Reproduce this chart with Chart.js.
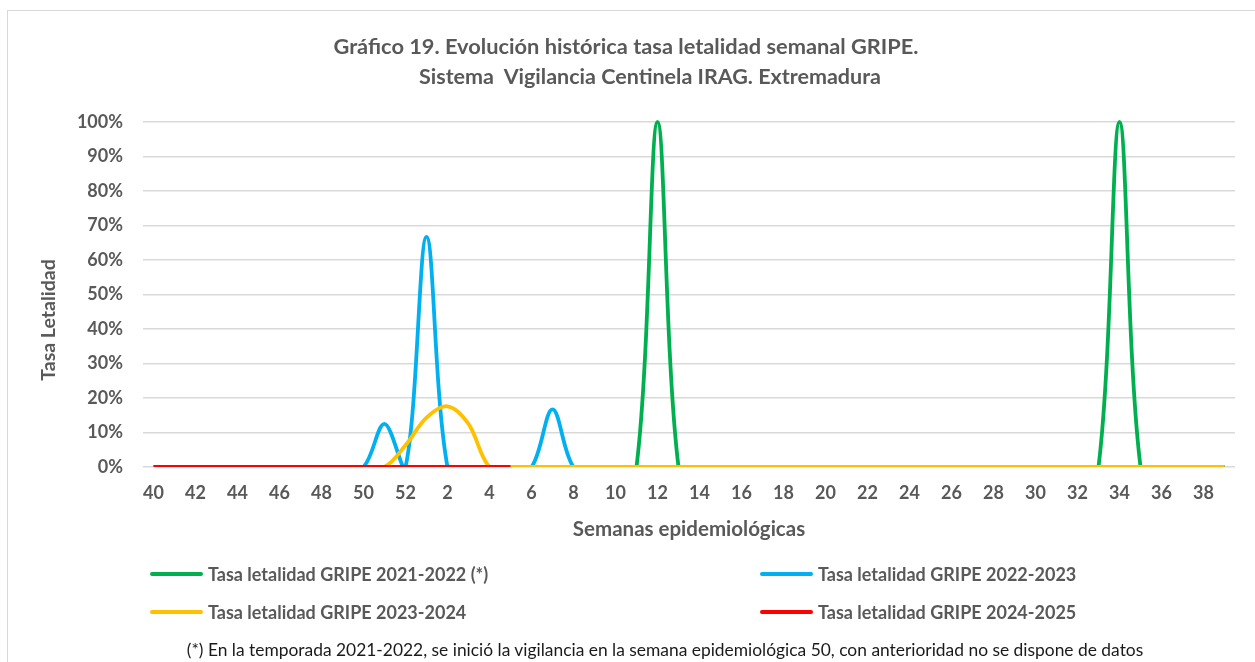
<!DOCTYPE html>
<html>
<head>
<meta charset="utf-8">
<script src="https://cdn.jsdelivr.net/npm/chart.js@4/dist/chart.umd.min.js"></script>
<style>
  html, body { margin: 0; padding: 0; background: #fff; }
  #wrap { position: relative; width: 1255px; height: 662px; overflow: hidden; font-family: Lato, "DejaVu Sans", sans-serif; }
  #frame { position: absolute; left: 7px; top: 10px; width: 1300px; height: 700px; border: 1px solid #d9d9d9; box-sizing: border-box; }
  canvas { position: absolute; left: 0; top: 0; }
  .t { position: absolute; white-space: pre; text-align: center; color: #595959; font-weight: bold; }
  .lg { position: absolute; white-space: pre; color: #595959; font-weight: bold; font-size: 18px; line-height: 22px; }
  .sw { position: absolute; height: 4px; width: 53px; border-radius: 2px; }
  #ytitle { position: absolute; left: -52px; top: 307px; width: 200px; height: 26px; line-height: 26px;
    font-size: 19.5px; transform: rotate(-90deg); transform-origin: 50% 50%; }
</style>
</head>
<body>
<div id="wrap">
  <div id="frame"></div>
  <canvas id="c" width="1255" height="662"></canvas>
  <div class="t" style="left:176px; width:900px; top:33px; font-size:21.8px; line-height:26px;">Gráfico 19. Evolución histórica tasa letalidad semanal GRIPE.</div>
  <div class="t" style="left:200px; width:900px; top:63px; font-size:21.5px; line-height:26px;">Sistema  Vigilancia Centinela IRAG. Extremadura</div>
  <div class="t" id="ytitle">Tasa Letalidad</div>

  <div class="sw" style="left:150px; top:572px; background:#00b050;"></div>
  <div class="lg" style="left:208px; top:563px;">Tasa letalidad GRIPE 2021-2022 (*)</div>
  <div class="sw" style="left:760px; top:572px; background:#00b0f0;"></div>
  <div class="lg" style="left:818px; top:563px;">Tasa letalidad GRIPE 2022-2023</div>
  <div class="sw" style="left:150px; top:610px; background:#ffc000;"></div>
  <div class="lg" style="left:208px; top:601px;">Tasa letalidad GRIPE 2023-2024</div>
  <div class="sw" style="left:760px; top:610px; background:#ff0000;"></div>
  <div class="lg" style="left:818px; top:601px;">Tasa letalidad GRIPE 2024-2025</div>

  <div class="t" style="left:165px; width:1000px; top:639px; font-size:17.4px; line-height:22px; font-weight:normal; color:#1a1a1a;">(*) En la temporada 2021-2022, se inició la vigilancia en la semana epidemiológica 50, con anterioridad no se dispone de datos</div>
</div>
<script>
// Categories: epidemiological weeks 40..52, 1..39
const weeks = ["40","41","42","43","44","45","46","47","48","49","50","51","52",
  "1","2","3","4","5","6","7","8","9","10","11","12","13","14","15","16","17","18","19","20",
  "21","22","23","24","25","26","27","28","29","30","31","32","33","34","35","36","37","38","39"];

// Tasa letalidad GRIPE 2021-2022 (%), surveillance started week 50
const s2122 = [null,null,null,null,null,null,null,null,null,null,0,0,0,
  0,0,0,0,0,0,0,0,0,0,0,100,0,0,0,0,0,0,0,0,
  0,0,0,0,0,0,0,0,0,0,0,0,0,100,0,0,0,0,0];

// Tasa letalidad GRIPE 2022-2023 (%)
const s2223 = [0,0,0,0,0,0,0,0,0,0,0,12.5,0,
  66.7,0,0,0,0,0,16.7,0,0,0,0,0,0,0,0,0,0,0,0,0,
  0,0,0,0,0,0,0,0,0,0,0,0,0,0,0,0,0,0,0];

// Tasa letalidad GRIPE 2023-2024 (%)
const s2324 = [0,0,0,0,0,0,0,0,0,0,0,0,6.3,
  14.3,17.6,12.5,0,0,0,0,0,0,0,0,0,0,0,0,0,0,0,0,0,
  0,0,0,0,0,0,0,0,0,0,0,0,0,0,0,0,0,0,0];

// Tasa letalidad GRIPE 2024-2025 (%), up to week 5
const s2425 = [0,0,0,0,0,0,0,0,0,0,0,0,0,
  0,0,0,0,0];

const seriesNames = ["Tasa letalidad GRIPE 2021-2022 (*)","Tasa letalidad GRIPE 2022-2023",
  "Tasa letalidad GRIPE 2023-2024","Tasa letalidad GRIPE 2024-2025"];
const yTicks = [0,10,20,30,40,50,60,70,80,90,100];

const FONT = "Lato, 'DejaVu Sans', sans-serif";
const GREY = "#595959";

function ds(label, data, color, order) {
  return { label, data, borderColor: color, backgroundColor: color, borderWidth: 3.8,
    pointRadius: 0, tension: 0.35, fill: false, order, spanGaps: false,
    clip: {left: 4, right: 4, top: 4, bottom: 0} };
}

new Chart(document.getElementById("c"), {
  type: "line",
  data: {
    labels: weeks,
    datasets: [
      ds(seriesNames[0], s2122, "#00b050", 4),
      ds(seriesNames[1], s2223, "#00b0f0", 3),
      ds(seriesNames[2], s2324, "#ffc000", 2),
      ds(seriesNames[3], s2425, "#ff0000", 1)
    ]
  },
  options: {
    responsive: false,
    animation: false,
    devicePixelRatio: 1,
    layout: { padding: { left: 20, right: 20, top: 122, bottom: 112 } },
    elements: { line: { capBezierPoints: false, borderCapStyle: "butt", borderJoinStyle: "round" } },
    plugins: { legend: { display: false }, title: { display: false }, tooltip: { enabled: false } },
    scales: {
      x: {
        offset: true,
        grid: { display: false, drawTicks: false },
        border: { display: false },
        ticks: {
          autoSkip: false, maxRotation: 0, minRotation: 0, padding: 15,
          color: GREY, font: { family: FONT, size: 18, weight: "bold" },
          callback: function (v, i) { return i % 2 === 0 ? weeks[i] : ""; }
        },
        title: { display: true, text: "Semanas epidemiológicas", color: GREY,
          font: { family: FONT, size: 20.5, weight: "bold" }, padding: { top: 0, bottom: 8 } },
        afterFit: function (s) { s.height = 83; }
      },
      y: {
        min: 0, max: 100,
        afterBuildTicks: function (s) { s.ticks = yTicks.map(v => ({ value: v })); },
        grid: { color: "#d9d9d9", lineWidth: 1.5, drawTicks: false },
        border: { display: false },
        ticks: { padding: 20, color: GREY, font: { family: FONT, size: 18, weight: "bold" },
          callback: v => v + "%" },
        title: { display: false },
        afterFit: function (s) { s.width = 123; }
      }
    }
  }
});
</script>
</body>
</html>
